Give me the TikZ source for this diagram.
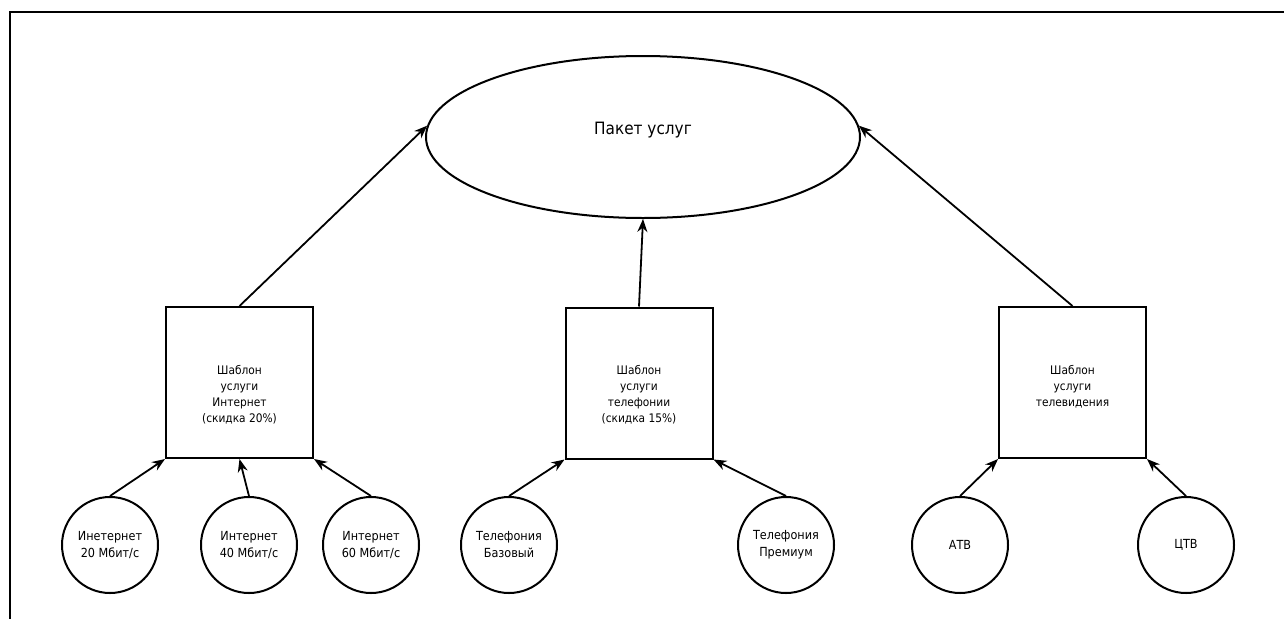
\documentclass[tikz,border=0pt]{standalone}
\usepackage{fontspec}
\setmainfont{DejaVu Sans}[FakeStretch=0.9]
\usetikzlibrary{shapes.geometric,arrows.meta}
\begin{document}
\begin{tikzpicture}[x=1pt,y=-1pt,
  line width=2pt,
  pkgnode/.style={ellipse,draw,inner sep=0pt,minimum width=434pt,minimum height=162pt,
    font=\fontsize{17}{19}\selectfont,text depth=18pt},
  tplbox/.style={rectangle,draw,inner sep=0pt,minimum width=147pt,minimum height=151pt},
  tpltext/.style={anchor=north,align=center,inner sep=0pt,
    font=\fontsize{11.8}{16}\selectfont},
  svc/.style={circle,draw,inner sep=0pt,minimum size=96pt,align=center,
    font=\fontsize{12.5}{17}\selectfont},
  link/.style={-{Stealth[length=13pt,width=10pt]},line width=1.8pt}]
\useasboundingbox (0,0) rectangle (1284,619);
% frame
\draw[line width=2.2pt] (1284,12) -- (10,12) -- (10,619);

% root
\node[pkgnode] (pkg) at (643,137) {Пакет услуг};

% templates
\node[tplbox] (b1) at (239.5,382.5) {};
\node[tplbox] (b2) at (639,383) {};
\node[tplbox] (b3) at (1072.5,382.5) {};
\node[tpltext] (t1) at (239.5,364) {Шаблон\\услуги\\Интернет\\(скидка 20\%)};
\node[tpltext] (t2) at (639,364) {Шаблон\\услуги\\телефонии\\(скидка 15\%)};
\node[tpltext] (t3) at (1072.5,364) {Шаблон\\услуги\\телевидения};

% services
\node[svc] (i20) at (110,545) {Инетернет\\20 Мбит/с};
\node[svc] (i40) at (249,545) {Интернет\\40 Мбит/с};
\node[svc] (i60) at (371,545) {Интернет\\60 Мбит/с};
\node[svc] (tb) at (509,545) {Телефония\\Базовый};
\node[svc] (tp) at (786,545) {Телефония\\Премиум};
\node[svc] (atv) at (960,545) {АТВ};
\node[svc] (ctv) at (1186,545) {ЦТВ};

% links to the package
\draw[link] (b1.north) -- (pkg.177);
\draw[link] (b2.north) -- (pkg.south);
\draw[link] (b3.north) -- (pkg.3);

% links to the templates
\draw[link] (i20.north) -- (b1.south west);
\draw[link] (i40.north) -- (b1.south);
\draw[link] (i60.north) -- (b1.south east);
\draw[link] (tb.north) -- (b2.south west);
\draw[link] (tp.north) -- (b2.south east);
\draw[link] (atv.north) -- (b3.south west);
\draw[link] (ctv.north) -- (b3.south east);
\end{tikzpicture}
\end{document}
